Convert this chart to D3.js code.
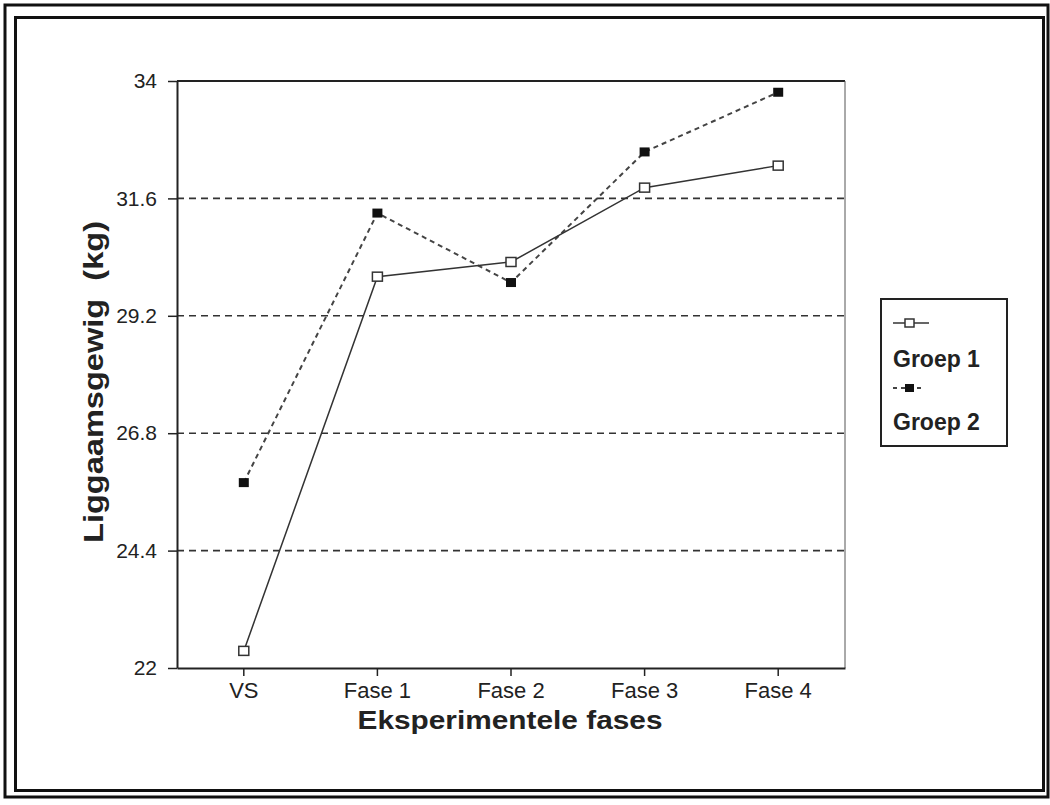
<!DOCTYPE html>
<html>
<head>
<meta charset="utf-8">
<script src="https://cdn.jsdelivr.net/npm/d3@7"></script>
<style>
  body { margin: 0; background: #fff; }
  text { font-family: "Liberation Sans", Arial, sans-serif; fill: #222; }
</style>
</head>
<body>
<div id="chart"></div>
<script>
// data
var categories = ["VS", "Fase 1", "Fase 2", "Fase 3", "Fase 4"];
var groep1 = [22.35, 30.0, 30.3, 31.82, 32.27];
var groep2 = [25.79, 31.3, 29.88, 32.55, 33.77];
var yTicks = [22, 24.4, 26.8, 29.2, 31.6, 34];
var seriesNames = ["Groep 1", "Groep 2"];

var W = 1050, H = 805;
var plotL = 177, plotR = 845, plotT = 81, plotB = 668;

var svg = d3.select("#chart").append("svg")
  .attr("width", W).attr("height", H);

// double frame around the whole thing
svg.append("rect").attr("x", 5).attr("y", 5).attr("width", 1043).attr("height", 792)
  .attr("fill", "none").attr("stroke", "#111").attr("stroke-width", 3);
svg.append("rect").attr("x", 15.5).attr("y", 17.5).attr("width", 1028).attr("height", 773)
  .attr("fill", "none").attr("stroke", "#111").attr("stroke-width", 3);

var x = d3.scaleBand().domain(categories).range([plotL, plotR]);
var y = d3.scaleLinear().domain([22, 34]).range([plotB, plotT]);
var cx = function(d){ return x(d) + x.bandwidth() / 2; };

// gridlines
svg.append("g").selectAll("line")
  .data(yTicks.filter(function(d){ return d > 22 && d < 34; }))
  .enter().append("line")
  .attr("x1", plotL).attr("x2", plotR)
  .attr("y1", function(d){ return y(d); })
  .attr("y2", function(d){ return y(d); })
  .attr("stroke", "#333").attr("stroke-width", 1.6)
  .attr("stroke-dasharray", "7,5");

// plot frame (top + right)
svg.append("line").attr("x1", plotL).attr("x2", plotR).attr("y1", plotT).attr("y2", plotT)
  .attr("stroke", "#222").attr("stroke-width", 2);
svg.append("line").attr("x1", plotR).attr("x2", plotR).attr("y1", plotT).attr("y2", plotB)
  .attr("stroke", "#555").attr("stroke-width", 1);

var yAxis = svg.append("g").attr("transform", "translate(" + plotL + ",0)")
  .call(d3.axisLeft(y).tickValues(yTicks).tickSize(9).tickSizeOuter(0).tickPadding(11)
    .tickFormat(function(d){ return d3.format("")(d); }));
yAxis.selectAll("text").style("font-size", "21px").attr("fill", "#222");

var xAxis = svg.append("g").attr("transform", "translate(0," + plotB + ")")
  .call(d3.axisBottom(x).tickSize(8).tickSizeOuter(0).tickPadding(6));
xAxis.selectAll("text").style("font-size", "22px").attr("fill", "#222");

[yAxis, xAxis].forEach(function(a){
  a.select(".domain").attr("stroke", "#222").attr("stroke-width", 2);
  a.selectAll(".tick line").attr("stroke", "#222").attr("stroke-width", 1.5);
});

// axis titles
svg.append("text")
  .attr("x", 510).attr("y", 729)
  .attr("text-anchor", "middle")
  .attr("textLength", 305).attr("lengthAdjust", "spacingAndGlyphs")
  .style("font-size", "26px").style("font-weight", "bold")
  .text("Eksperimentele fases");

svg.append("text")
  .attr("transform", "translate(103,382) rotate(-90)")
  .attr("text-anchor", "middle")
  .attr("textLength", 322).attr("lengthAdjust", "spacingAndGlyphs")
  .style("font-size", "27px").style("font-weight", "bold")
  .style("white-space", "pre")
  .text("Liggaamsgewig  (kg)");

// lines
var line = d3.line()
  .x(function(d, i){ return cx(categories[i]); })
  .y(function(d){ return y(d); });

svg.append("path").datum(groep2)
  .attr("d", line).attr("fill", "none")
  .attr("stroke", "#444").attr("stroke-width", 2)
  .attr("stroke-dasharray", "5,4");

svg.append("path").datum(groep1)
  .attr("d", line).attr("fill", "none")
  .attr("stroke", "#333").attr("stroke-width", 1.5);

// markers
svg.append("g").selectAll("rect")
  .data(groep2).enter().append("rect")
  .attr("x", function(d, i){ return cx(categories[i]) - 5; })
  .attr("y", function(d){ return y(d) - 4.5; })
  .attr("width", 10).attr("height", 9)
  .attr("fill", "#111");

svg.append("g").selectAll("rect")
  .data(groep1).enter().append("rect")
  .attr("x", function(d, i){ return cx(categories[i]) - 5; })
  .attr("y", function(d){ return y(d) - 4.5; })
  .attr("width", 10).attr("height", 9)
  .attr("fill", "#fff").attr("stroke", "#333").attr("stroke-width", 1.5);

// legend
var lg = svg.append("g");
lg.append("rect").attr("x", 881).attr("y", 299).attr("width", 126).attr("height", 147)
  .attr("fill", "#fff").attr("stroke", "#222").attr("stroke-width", 2);

// groep 1 symbol
lg.append("line").attr("x1", 893).attr("x2", 929).attr("y1", 323).attr("y2", 323)
  .attr("stroke", "#333").attr("stroke-width", 1.5);
lg.append("rect").attr("x", 905).attr("y", 319).attr("width", 9).attr("height", 8)
  .attr("fill", "#fff").attr("stroke", "#333").attr("stroke-width", 1.5);
// groep 2 symbol
lg.append("line").attr("x1", 893).attr("x2", 924).attr("y1", 388).attr("y2", 388)
  .attr("stroke", "#444").attr("stroke-width", 2).attr("stroke-dasharray", "4,4");
lg.append("rect").attr("x", 905).attr("y", 384).attr("width", 9).attr("height", 8)
  .attr("fill", "#111");

lg.selectAll("text.lab").data(seriesNames).enter().append("text")
  .attr("class", "lab")
  .attr("x", 893)
  .attr("y", function(d, i){ return i === 0 ? 367 : 430; })
  .style("font-size", "23px").style("font-weight", "bold")
  .text(function(d){ return d; });
</script>
</body>
</html>
